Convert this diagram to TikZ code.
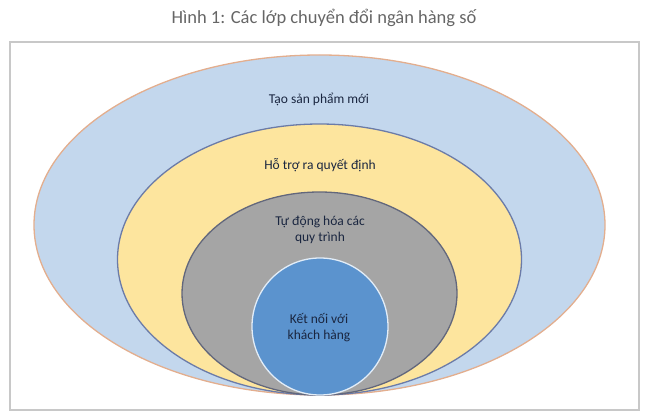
\documentclass[tikz,border=0pt]{standalone}
\usepackage{fontspec}
\setmainfont{Carlito}
\usetikzlibrary{shapes.geometric}
\definecolor{framegray}{HTML}{C8C8C8}
\definecolor{titlegray}{HTML}{666666}
\definecolor{skyfill}{HTML}{C3D7ED}
\definecolor{skyline}{HTML}{E3AE8E}
\definecolor{sandfill}{HTML}{FDE59E}
\definecolor{sandline}{HTML}{6B7BA8}
\definecolor{stonefill}{HTML}{A5A5A5}
\definecolor{stoneline}{HTML}{62677C}
\definecolor{corefill}{HTML}{5B93CE}
\definecolor{coreline}{HTML}{E2EDF8}
\definecolor{labelink}{HTML}{1A2640}

\begin{document}
\begin{tikzpicture}[x=1pt,y=1pt,
  ring/.style={ellipse,inner sep=0pt,outer sep=0pt,line width=1.3pt},
  lbl/.style={align=center,text=labelink,font=\fontsize{13.5}{16}\selectfont}]
  \useasboundingbox (0,0) rectangle (650,418);
  \draw[framegray,line width=1.5pt] (10,8) rectangle (639,376);
  \node[text=titlegray,font=\fontsize{18.5}{22}\selectfont] (title) at (324,400) {Hình 1: Các lớp chuyển đổi ngân hàng số};

  % nested layers, all touching at the bottom
  \node[ring,draw=skyline,fill=skyfill,minimum width=571pt,minimum height=340pt] (outer) at (319.5,193) {};
  \node[ring,draw=sandline,fill=sandfill,minimum width=404pt,minimum height=271pt] (decide) at (319.5,158.5) {};
  \node[ring,draw=stoneline,fill=stonefill,minimum width=275pt,minimum height=203pt] (auto) at (319.5,124.5) {};
  \node[ring,draw=coreline,fill=corefill,minimum width=136pt,minimum height=137pt] (core) at (320,91.5) {};

  \node[lbl] (outertext) at (319,319) {Tạo sản phẩm mới};
  \node[lbl] (decidetext) at (320,253) {Hỗ trợ ra quyết định};
  \node[lbl] (autotext) at (320,188) {Tự động hóa các\\quy trình};
  \node[lbl] (coretext) at (319,90.5) {Kết nối với\\khách hàng};
\end{tikzpicture}
\end{document}
